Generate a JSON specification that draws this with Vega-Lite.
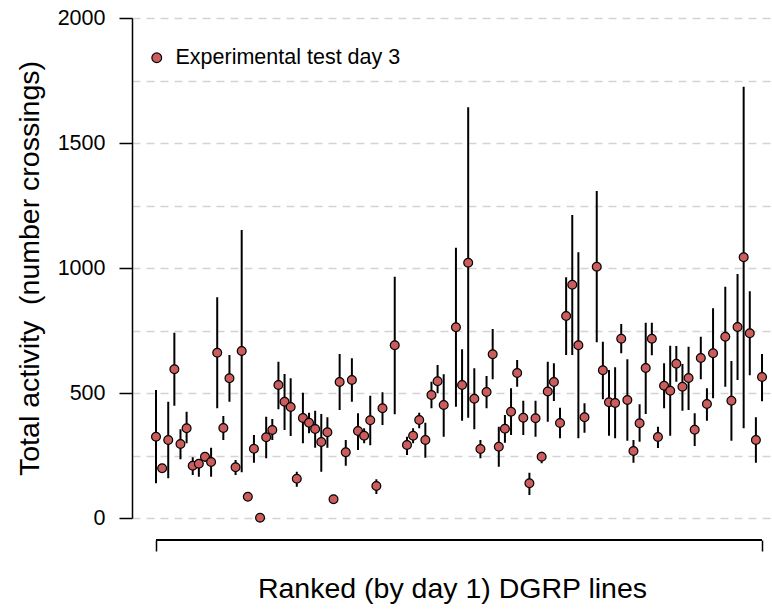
{
  "$schema": "https://vega.github.io/schema/vega-lite/v6.json",
  "width": 640,
  "height": 500,
  "autosize": {"type": "none"},
  "padding": {"left": 132, "top": 18, "right": 0, "bottom": 96},
  "config": {"view": {"stroke": null}, "font": "Liberation Sans"},
  "data": {"values": [
    {"i": 0, "mean": 325, "lo": 139, "hi": 512},
    {"i": 1, "mean": 199, "lo": 182, "hi": 216},
    {"i": 2, "mean": 312, "lo": 159, "hi": 465},
    {"i": 3, "mean": 595, "lo": 449, "hi": 741},
    {"i": 4, "mean": 296, "lo": 235, "hi": 355},
    {"i": 5, "mean": 359, "lo": 299, "hi": 425},
    {"i": 6, "mean": 209, "lo": 172, "hi": 243},
    {"i": 7, "mean": 217, "lo": 165, "hi": 232},
    {"i": 8, "mean": 245, "lo": 225, "hi": 262},
    {"i": 9, "mean": 224, "lo": 165, "hi": 281},
    {"i": 10, "mean": 661, "lo": 439, "hi": 883},
    {"i": 11, "mean": 360, "lo": 312, "hi": 408},
    {"i": 12, "mean": 559, "lo": 465, "hi": 652},
    {"i": 13, "mean": 203, "lo": 172, "hi": 232},
    {"i": 14, "mean": 668, "lo": 183, "hi": 1152},
    {"i": 15, "mean": 85, "lo": 72, "hi": 98},
    {"i": 16, "mean": 277, "lo": 221, "hi": 332},
    {"i": 17, "mean": 1, "lo": 0, "hi": 10},
    {"i": 18, "mean": 323, "lo": 239, "hi": 405},
    {"i": 19, "mean": 352, "lo": 312, "hi": 396},
    {"i": 20, "mean": 532, "lo": 435, "hi": 625},
    {"i": 21, "mean": 465, "lo": 352, "hi": 576},
    {"i": 22, "mean": 444, "lo": 328, "hi": 559},
    {"i": 23, "mean": 157, "lo": 125, "hi": 185},
    {"i": 24, "mean": 400, "lo": 299, "hi": 501},
    {"i": 25, "mean": 381, "lo": 339, "hi": 421},
    {"i": 26, "mean": 356, "lo": 281, "hi": 429},
    {"i": 27, "mean": 304, "lo": 185, "hi": 416},
    {"i": 28, "mean": 343, "lo": 281, "hi": 403},
    {"i": 29, "mean": 75, "lo": 62, "hi": 88},
    {"i": 30, "mean": 544, "lo": 432, "hi": 656},
    {"i": 31, "mean": 263, "lo": 209, "hi": 312},
    {"i": 32, "mean": 552, "lo": 465, "hi": 639},
    {"i": 33, "mean": 348, "lo": 272, "hi": 419},
    {"i": 34, "mean": 329, "lo": 299, "hi": 359},
    {"i": 35, "mean": 391, "lo": 291, "hi": 489},
    {"i": 36, "mean": 128, "lo": 96, "hi": 155},
    {"i": 37, "mean": 439, "lo": 372, "hi": 503},
    {"i": 39, "mean": 691, "lo": 415, "hi": 965},
    {"i": 41, "mean": 292, "lo": 252, "hi": 325},
    {"i": 42, "mean": 329, "lo": 299, "hi": 359},
    {"i": 43, "mean": 392, "lo": 359, "hi": 421},
    {"i": 44, "mean": 312, "lo": 241, "hi": 381},
    {"i": 45, "mean": 492, "lo": 439, "hi": 545},
    {"i": 46, "mean": 547, "lo": 499, "hi": 612},
    {"i": 47, "mean": 452, "lo": 325, "hi": 575},
    {"i": 49, "mean": 763, "lo": 445, "hi": 1081},
    {"i": 50, "mean": 532, "lo": 389, "hi": 675},
    {"i": 51, "mean": 1021, "lo": 401, "hi": 1643},
    {"i": 52, "mean": 477, "lo": 355, "hi": 599},
    {"i": 53, "mean": 276, "lo": 239, "hi": 312},
    {"i": 54, "mean": 504, "lo": 439, "hi": 568},
    {"i": 55, "mean": 655, "lo": 555, "hi": 756},
    {"i": 56, "mean": 285, "lo": 205, "hi": 365},
    {"i": 57, "mean": 357, "lo": 301, "hi": 412},
    {"i": 58, "mean": 425, "lo": 332, "hi": 519},
    {"i": 59, "mean": 580, "lo": 525, "hi": 632},
    {"i": 60, "mean": 401, "lo": 332, "hi": 469},
    {"i": 61, "mean": 139, "lo": 92, "hi": 181},
    {"i": 62, "mean": 399, "lo": 325, "hi": 469},
    {"i": 63, "mean": 245, "lo": 219, "hi": 265},
    {"i": 64, "mean": 506, "lo": 385, "hi": 625},
    {"i": 65, "mean": 544, "lo": 468, "hi": 619},
    {"i": 66, "mean": 380, "lo": 319, "hi": 441},
    {"i": 67, "mean": 808, "lo": 652, "hi": 963},
    {"i": 68, "mean": 933, "lo": 652, "hi": 1212},
    {"i": 69, "mean": 691, "lo": 319, "hi": 1063},
    {"i": 70, "mean": 403, "lo": 341, "hi": 459},
    {"i": 72, "mean": 1005, "lo": 703, "hi": 1308},
    {"i": 73, "mean": 591, "lo": 475, "hi": 705},
    {"i": 74, "mean": 463, "lo": 329, "hi": 592},
    {"i": 75, "mean": 460, "lo": 319, "hi": 603},
    {"i": 76, "mean": 717, "lo": 659, "hi": 776},
    {"i": 77, "mean": 472, "lo": 309, "hi": 635},
    {"i": 78, "mean": 268, "lo": 221, "hi": 312},
    {"i": 79, "mean": 379, "lo": 305, "hi": 455},
    {"i": 80, "mean": 600, "lo": 416, "hi": 781},
    {"i": 81, "mean": 717, "lo": 651, "hi": 781},
    {"i": 82, "mean": 324, "lo": 280, "hi": 365},
    {"i": 83, "mean": 529, "lo": 439, "hi": 619},
    {"i": 84, "mean": 509, "lo": 329, "hi": 689},
    {"i": 85, "mean": 617, "lo": 545, "hi": 688},
    {"i": 86, "mean": 525, "lo": 429, "hi": 616},
    {"i": 87, "mean": 560, "lo": 432, "hi": 685},
    {"i": 88, "mean": 353, "lo": 288, "hi": 419},
    {"i": 89, "mean": 640, "lo": 555, "hi": 725},
    {"i": 90, "mean": 456, "lo": 389, "hi": 519},
    {"i": 91, "mean": 659, "lo": 479, "hi": 839},
    {"i": 93, "mean": 725, "lo": 525, "hi": 925},
    {"i": 94, "mean": 469, "lo": 309, "hi": 628},
    {"i": 95, "mean": 764, "lo": 552, "hi": 976},
    {"i": 96, "mean": 1043, "lo": 359, "hi": 1725},
    {"i": 97, "mean": 739, "lo": 571, "hi": 907},
    {"i": 98, "mean": 312, "lo": 221, "hi": 403},
    {"i": 99, "mean": 564, "lo": 467, "hi": 656}
  ]},
  "layer": [
    {
      "mark": {"type": "rule", "stroke": "black", "strokeWidth": 2},
      "encoding": {
        "x": {
          "field": "i", "type": "quantitative",
          "scale": {"domain": [-3.92, 100.63], "nice": false, "zero": false},
          "axis": {
            "title": "Ranked (by day 1) DGRP lines",
            "values": [0, 99], "labels": false, "domain": false, "grid": false,
            "offset": 22, "tickSize": 11, "tickWidth": 1.5, "tickColor": "black",
            "titleFontSize": 28.5, "titleFontWeight": "normal", "titleColor": "black",
            "titleFont": "Liberation Sans", "titlePadding": 23
          }
        },
        "y": {
          "field": "lo", "type": "quantitative",
          "scale": {"domain": [0, 2000], "nice": false},
          "axis": {
            "title": "Total activity\u00a0 (number crossings)",
            "values": [0, 250, 500, 750, 1000, 1250, 1500, 1750, 2000],
            "labelExpr": "datum.value % 500 === 0 ? datum.label : ''",
            "format": "d",
            "tickOpacity": {"condition": {"test": "datum.value % 500 === 0", "value": 1}, "value": 0},
            "tickSize": 13, "tickWidth": 1.5, "tickColor": "black",
            "domainColor": "black", "domainWidth": 1.5,
            "labelFontSize": 21.5, "labelColor": "black", "labelFont": "Liberation Sans",
            "labelPadding": 14, "labelOverlap": false, "labelFlush": false,
            "titleFontSize": 28.5, "titleFontWeight": "normal", "titleColor": "black",
            "titleFont": "Liberation Sans", "titlePadding": 13,
            "grid": true, "gridColor": "#D3D3D3", "gridDash": [8, 6], "gridWidth": 1.5
          }
        },
        "y2": {"field": "hi"}
      }
    },
    {
      "mark": {"type": "circle", "size": 78, "opacity": 1, "stroke": "black", "strokeWidth": 1.2},
      "encoding": {
        "x": {"field": "i", "type": "quantitative"},
        "y": {"field": "mean", "type": "quantitative"},
        "color": {
          "datum": "Experimental test day 3",
          "scale": {"range": ["#CD5C5C"]},
          "legend": {
            "title": null, "orient": "none", "legendX": 14, "legendY": 29,
            "labelFontSize": 21.5, "labelColor": "black", "labelFont": "Liberation Sans",
            "labelLimit": 0,
            "symbolSize": 95, "symbolType": "circle", "symbolStrokeColor": "black",
            "symbolStrokeWidth": 1.2, "symbolOpacity": 1, "labelOffset": 8, "padding": 0
          }
        }
      }
    },
    {
      "mark": {"type": "rule", "stroke": "black", "strokeWidth": 1.5},
      "encoding": {
        "x": {"datum": 0},
        "x2": {"datum": 99},
        "y": {"datum": -88}
      }
    }
  ]
}
